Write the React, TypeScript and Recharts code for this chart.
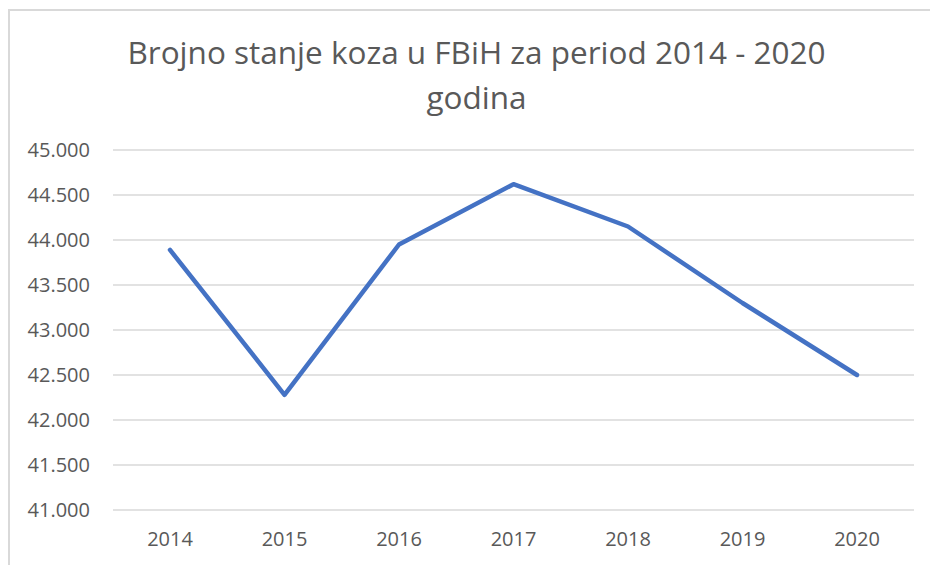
import { CartesianGrid, Line, LineChart, XAxis, YAxis } from 'recharts';

const years = ['2014', '2015', '2016', '2017', '2018', '2019', '2020'];
const goats = [43890, 42280, 43950, 44620, 44150, 43300, 42500];
const yTicks = [41000, 41500, 42000, 42500, 43000, 43500, 44000, 44500, 45000];

const data = years.map((year, i) => ({ year, koze: goats[i] }));

const formatNumber = (v: number) => v.toString().replace(/\B(?=(\d{3})+(?!\d))/g, '.');

const FONT = '"Open Sans", sans-serif';

export default function App() {
    return (
        <div style={{ position: 'absolute', left: 0, top: 0, width: 930, height: 565, overflow: 'hidden', background: '#fff', fontFamily: FONT }}>
            <div style={{ position: 'absolute', left: 8, top: 9, width: 940, height: 580, borderLeft: '2px solid #d9d9d9', borderTop: '2px solid #d9d9d9' }} />
            <div style={{ position: 'absolute', left: 0, top: 29, width: 953, textAlign: 'center', fontSize: 31.5, lineHeight: '45px', color: '#595959' }}>
                Brojno stanje koza u FBiH za period 2014 - 2020
                <br />
                godina
            </div>
            <LineChart
                width={930}
                height={565}
                data={data}
                margin={{ top: 150, right: 16, left: 8, bottom: 0 }}
            >
                <CartesianGrid vertical={false} stroke="#d9d9d9" strokeWidth={1.5} />
                <XAxis
                    dataKey="year"
                    axisLine={false}
                    tickLine={false}
                    tickSize={0}
                    tickMargin={22}
                    height={55}
                    padding={{ left: 57, right: 57 }}
                    tick={{ fill: '#595959', fontSize: 20, fontFamily: FONT }}
                />
                <YAxis
                    domain={[41000, 45000]}
                    ticks={yTicks}
                    tickFormatter={formatNumber}
                    axisLine={false}
                    tickLine={false}
                    tickSize={0}
                    tickMargin={23}
                    width={105}
                    tick={{ fill: '#595959', fontSize: 20, fontFamily: FONT }}
                />
                <Line
                    type="linear"
                    dataKey="koze"
                    stroke="#4472C4"
                    strokeWidth={4.5}
                    strokeLinecap="round"
                    strokeLinejoin="round"
                    dot={false}
                    activeDot={false}
                    isAnimationActive={false}
                />
            </LineChart>
        </div>
    );
}
